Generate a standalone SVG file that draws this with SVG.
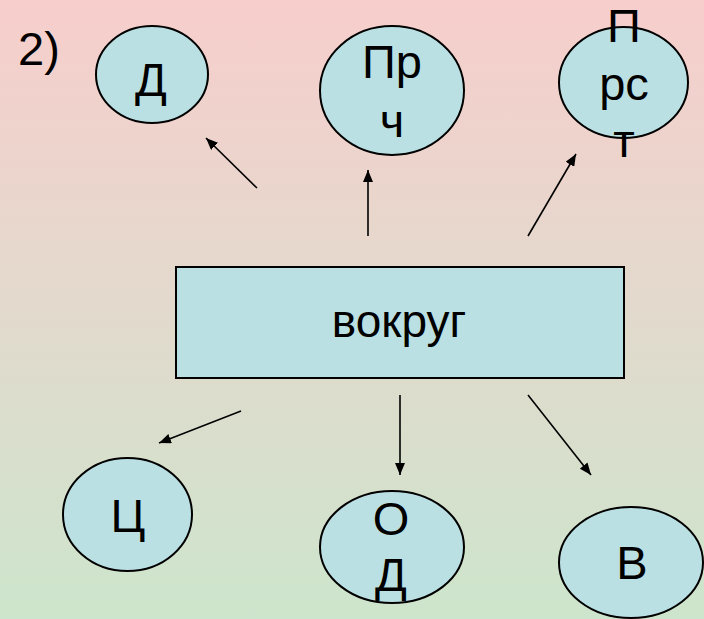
<svg xmlns="http://www.w3.org/2000/svg" width="704" height="619" viewBox="0 0 704 619">
<defs>
<linearGradient id="bg" x1="0" y1="0" x2="0" y2="1">
<stop offset="0" stop-color="#F7CECC"/>
<stop offset="1" stop-color="#CDE5CC"/>
</linearGradient>
<marker id="ah" viewBox="0 0 12 10" refX="12" refY="5" markerWidth="12" markerHeight="10" markerUnits="userSpaceOnUse" orient="auto">
<path d="M0,0 L12,5 L0,10 Z" fill="#000"/>
</marker>
<style>
.n{fill:#BBE0E3;stroke:#000;stroke-width:2}
.t{font-family:"Liberation Sans",Arial,sans-serif;font-size:47px;fill:#000;text-anchor:middle}
.c line{stroke:#000;stroke-width:1.6;marker-end:url(#ah)}
</style>
</defs>
<rect width="704" height="619" fill="url(#bg)"/>
<text x="18" y="65" style="font-family:'Liberation Sans',Arial,sans-serif;font-size:47px;fill:#000">2)</text>
<g id="center"><rect class="n" x="176" y="267" width="448" height="111"/><text class="t" x="399" y="337" style="font-size:46px">вокруг</text></g>
<g id="n1"><ellipse class="n" cx="152" cy="74.5" rx="56" ry="48.5"/><text class="t" x="151" y="96">Д</text></g>
<g id="n2"><ellipse class="n" cx="392" cy="90.5" rx="72" ry="64.5"/><text class="t" x="392" y="78">Пр</text><text class="t" x="392" y="137">ч</text></g>
<g id="n3"><ellipse class="n" cx="623.5" cy="82.5" rx="64.5" ry="55.5"/><text class="t" x="624" y="42">П</text><text class="t" x="624" y="100">рс</text><text class="t" x="624" y="157">т</text></g>
<g id="n4"><ellipse class="n" cx="127.5" cy="514.5" rx="64.5" ry="56.5"/><text class="t" x="128" y="532">Ц</text></g>
<g id="n5"><ellipse class="n" cx="392" cy="547" rx="72" ry="56"/><text class="t" x="391" y="535">О</text><text class="t" x="391" y="591">Д</text></g>
<g id="n6"><ellipse class="n" cx="631" cy="562.5" rx="72" ry="55.5"/><text class="t" x="632" y="579">В</text></g>
<g id="connectors" class="c">
<line x1="257" y1="188" x2="206" y2="138"/>
<line x1="368" y1="236" x2="368" y2="170"/>
<line x1="528" y1="236" x2="576" y2="154"/>
<line x1="241" y1="411" x2="159" y2="443"/>
<line x1="400" y1="395" x2="400" y2="475"/>
<line x1="528" y1="395" x2="591" y2="475"/>
</g>
</svg>
